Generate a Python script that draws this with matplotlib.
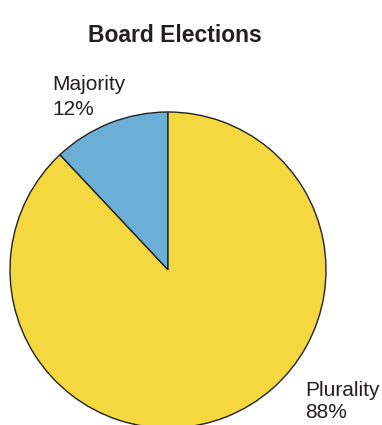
import matplotlib
matplotlib.use("Agg")
import matplotlib.pyplot as plt

plt.rcParams['font.family'] = ['Liberation Sans', 'DejaVu Sans']

categories = ["Plurality", "Majority"]
shares = [88, 12]
colors = ["#F5D73F", "#6CAFD6"]

W, H = 382, 425
fig = plt.figure(figsize=(W / 100, H / 100), dpi=100)
ax = fig.add_axes([0, 0, 1, 1])

# pie drawn in pixel-like data units; Majority slice starts at 12 o'clock going counterclockwise
ax.pie(shares[::-1], colors=colors[::-1], startangle=90, counterclock=True,
       center=(168, H - 270), radius=158,
       wedgeprops=dict(edgecolor="#222222", linewidth=1.0))
ax.set_xlim(0, W)
ax.set_ylim(0, H)
ax.set_aspect('equal')
ax.axis('off')

txt = "#231f20"
ax.text(175, H - 42, "Board Elections", ha='center', va='baseline',
        fontsize=16.5, fontweight='bold', color=txt)

def label(x, y_name, y_pct, name, pct):
    ax.text(x, H - y_name, name, ha='left', va='baseline', fontsize=15, color=txt)
    ax.text(x, H - y_pct, f"{pct}%", ha='left', va='baseline', fontsize=15, color=txt)

label(52, 90, 115, categories[1], shares[1])
label(305, 396, 418, categories[0], shares[0])

fig.savefig("out.png", dpi=100)
